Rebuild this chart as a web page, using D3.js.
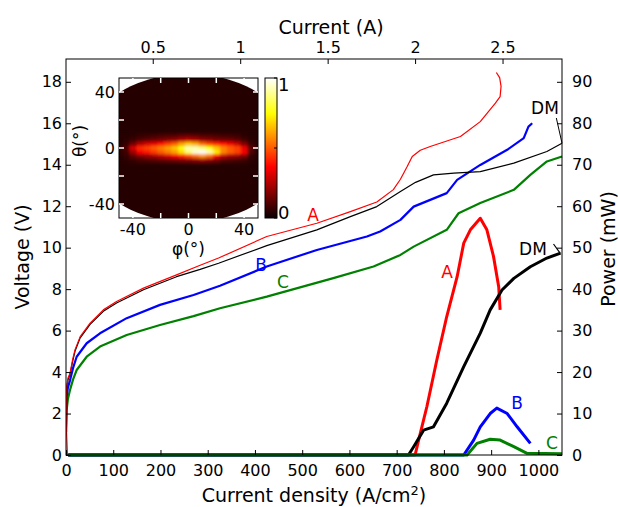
<!DOCTYPE html>
<html lang="en">
<head>
<meta charset="utf-8">
<title>LIV curves</title>
<script src="https://d3js.org/d3.v7.min.js"></script>
<style>
  body { margin: 0; background: #fff; font-family: "DejaVu Sans", sans-serif; }
  svg text { font-family: "DejaVu Sans", sans-serif; }
</style>
</head>
<body>
<div id="chart"></div>
<script>
// ---- voltage (V) vs current density (A/cm2) ----
var jVoltA = [3, 0.5, 1.4, 4, 8.5, 14, 19, 30, 51, 79, 107, 164, 234, 284, 323, 425, 531, 602, 658, 693, 708, 722, 733, 750, 771, 835, 877, 909, 919, 921, 918, 911]
var voltA  = [0, 1.5, 3.3, 3.7, 3.94, 4.6, 5.07, 5.71, 6.36, 7.0, 7.4, 8.05, 8.69, 9.15, 9.5, 10.54, 11.18, 11.74, 12.2, 12.8, 13.3, 13.9, 14.4, 14.7, 14.88, 15.36, 16.08, 16.97, 17.29, 17.78, 18.2, 18.45]

var jVoltDM = [0.5, 1.4, 4, 8.5, 14, 19, 30, 51, 79, 107, 164, 234, 284, 323, 425, 531, 602, 658, 708, 740, 778, 821, 877, 948, 1018, 1050]
var voltDM  = [1.5, 3.2, 3.6, 3.9, 4.5, 5.0, 5.65, 6.3, 6.93, 7.33, 7.97, 8.6, 8.95, 9.25, 10.1, 10.86, 11.5, 11.98, 12.71, 13.15, 13.51, 13.6, 13.67, 14.08, 14.64, 15.04]

var jVoltB = [0, 1.4, 4, 8.5, 15, 22.6, 43.8, 72, 128.5, 199, 270, 326, 425, 531, 637, 665, 708, 736, 806, 828, 877, 934, 969, 979, 987]
var voltB  = [1.1, 2.8, 3.25, 3.6, 4.2, 4.74, 5.39, 5.87, 6.6, 7.24, 7.72, 8.16, 9.09, 9.89, 10.54, 10.78, 11.34, 11.98, 12.63, 13.27, 13.99, 14.72, 15.28, 15.84, 16.0]

var jVoltC = [0, 1.4, 4, 8.5, 15, 22.6, 43.8, 72, 128.5, 199, 270, 326, 425, 566, 651, 708, 736, 806, 831, 877, 948, 983, 1018, 1050]
var voltC  = [1.1, 2.17, 2.7, 3.14, 3.65, 4.1, 4.74, 5.23, 5.79, 6.27, 6.7, 7.08, 7.64, 8.53, 9.09, 9.65, 10.05, 10.86, 11.66, 12.15, 12.79, 13.51, 14.16, 14.4]

// ---- optical power (mW) vs current density ----
var jPowA = [5, 700, 739, 750, 764, 785, 806, 828, 842, 856, 877, 891, 905, 916, 919]
var powA  = [0, 0, 0, 5.2, 11.7, 22.9, 33.4, 43, 51.1, 54.3, 57.1, 54.3, 47.9, 40.6, 35]

var jPowDM = [5, 715, 725, 736, 757, 778, 806, 842, 877, 898, 923, 948, 983, 1018, 1047]
var powDM  = [0, 0, 0, 2, 6, 6.8, 12.5, 21.3, 29.4, 35, 39.8, 42.6, 45.4, 47.5, 48.7]

var jPowB = [5, 842, 863, 877, 898, 912, 934, 955, 983]
var powB  = [0, 0, 3.6, 6.8, 10, 11.3, 10, 6.8, 2.8]

var jPowC = [5, 849, 870, 898, 919, 948, 976, 1050]
var powC  = [0, 0, 2.8, 3.8, 3.6, 2, 0.4, 0.3]

// ---- axis ticks ----
var jTicks = [0, 100, 200, 300, 400, 500, 600, 700, 800, 900, 1000]
var currentTicks = [0.5, 1, 1.5, 2, 2.5]
var voltTicks = [0, 2, 4, 6, 8, 10, 12, 14, 16, 18]
var powTicks = [0, 10, 20, 30, 40, 50, 60, 70, 80, 90]

// ---- far-field inset (normalised intensity) ----
var phiCols = [-50, -45, -40, -35, -30, -25, -20, -15, -10, -5, 0, 5, 10, 15, 20, 25, 30, 35, 40, 45, 50]
var thetaRows = [9, 6, 3, 0, -3, -6, -9]
var farField = [
  [.04,.04,.05,.06,.07,.08,.09,.10,.10,.12,.13,.12,.10,.10,.09,.08,.08,.07,.05,.04,.04],
  [.04,.05,.07,.10,.12,.14,.16,.18,.20,.24,.26,.24,.20,.18,.16,.15,.14,.12,.08,.05,.04],
  [.04,.06,.15,.25,.30,.33,.38,.45,.50,.60,.66,.62,.52,.46,.42,.38,.34,.28,.18,.07,.04],
  [.05,.10,.30,.42,.46,.50,.55,.60,.66,.76,.92,.92,.86,.76,.66,.56,.50,.46,.34,.12,.05],
  [.05,.08,.22,.36,.40,.45,.50,.55,.60,.70,.86,.96,1.0,.92,.72,.56,.50,.46,.36,.10,.05],
  [.04,.06,.12,.16,.20,.22,.26,.30,.35,.40,.46,.52,.58,.52,.36,.26,.22,.20,.16,.06,.04],
  [.04,.05,.06,.08,.09,.10,.11,.12,.13,.15,.16,.18,.20,.18,.14,.10,.09,.08,.07,.05,.04]
]
var farFieldBg = 0.04
var angleTicks = [-40, -20, 0, 20, 40]
var angleLabels = [-40, 0, 40]

var W = 618, H = 507
var pL = 66, pR = 562, pT = 59, pB = 455

var svg = d3.select("#chart").append("svg")
  .attr("width", W).attr("height", H)

var x = d3.scaleLinear().domain([0, 1050]).range([pL, pR])
var xTop = d3.scaleLinear().domain([0, 2.84]).range([pL - 0.7, pR])
var yV = d3.scaleLinear().domain([0, 19.1]).range([pB, pT])
var yP = d3.scaleLinear().domain([0, 95.5]).range([pB, pT])

function zipPts(js, vs) { return js.map(function(j, i) { return [j, vs[i]] }) }

var lineV = d3.line().x(function(d) { return x(d[0]) }).y(function(d) { return yV(d[1]) })
var lineP = d3.line().x(function(d) { return x(d[0]) }).y(function(d) { return yP(d[1]) })

var defs = svg.append("defs")
defs.append("clipPath").attr("id", "plotClip")
  .append("rect").attr("x", pL).attr("y", pT - 2).attr("width", pR - pL + 1).attr("height", pB - pT + 4)

var plot = svg.append("g").attr("clip-path", "url(#plotClip)")

// power curves (thick) - green ends up on top along the zero line
var powSeries = [
  {js: jPowA, vs: powA, color: "#ff0000"},
  {js: jPowDM, vs: powDM, color: "#000000"},
  {js: jPowB, vs: powB, color: "#0000ff"},
  {js: jPowC, vs: powC, color: "#008000"}
]
powSeries.forEach(function(s) {
  plot.append("path").attr("d", lineP(zipPts(s.js, s.vs)))
    .attr("fill", "none").attr("stroke", s.color).attr("stroke-width", 3)
    .attr("stroke-linejoin", "round")
})

// voltage curves
var voltSeries = [
  {js: jVoltC, vs: voltC, color: "#008000", w: 2.2},
  {js: jVoltB, vs: voltB, color: "#0000ff", w: 2.2},
  {js: jVoltDM, vs: voltDM, color: "#000000", w: 1.2},
  {js: jVoltA, vs: voltA, color: "#ff0000", w: 1.2}
]
voltSeries.forEach(function(s) {
  plot.append("path").attr("d", lineV(zipPts(s.js, s.vs)))
    .attr("fill", "none").attr("stroke", s.color).attr("stroke-width", s.w)
    .attr("stroke-linejoin", "round")
})

// frame
svg.append("rect").attr("x", pL).attr("y", pT).attr("width", pR - pL).attr("height", pB - pT)
  .attr("fill", "none").attr("stroke", "#000").attr("stroke-width", 1)

// axes with inward ticks
var tickFont = 16
svg.append("g").attr("transform", "translate(0," + pB + ")")
  .call(d3.axisTop(x).tickValues(jTicks).tickSize(5).tickFormat(d3.format("d")))
  .call(function(g) {
    g.select(".domain").remove()
    g.selectAll("text").attr("y", 21).attr("dy", "0").style("font-size", tickFont + "px")
  })

svg.append("g").attr("transform", "translate(0," + pT + ")")
  .call(d3.axisBottom(xTop).tickValues(currentTicks).tickSize(5).tickFormat(function(d) { return d3.format("")(d) }))
  .call(function(g) {
    g.select(".domain").remove()
    g.selectAll("text").attr("y", -6).attr("dy", "0").style("font-size", tickFont + "px")
  })

svg.append("g").attr("transform", "translate(" + pL + ",0)")
  .call(d3.axisRight(yV).tickValues(voltTicks).tickSize(5))
  .call(function(g) {
    g.select(".domain").remove()
    g.selectAll("text").attr("x", -4).attr("text-anchor", "end").style("font-size", tickFont + "px")
  })

svg.append("g").attr("transform", "translate(" + pR + ",0)")
  .call(d3.axisLeft(yP).tickValues(powTicks).tickSize(5))
  .call(function(g) {
    g.select(".domain").remove()
    g.selectAll("text").attr("x", 10).attr("text-anchor", "start").style("font-size", tickFont + "px")
  })

// axis titles
var titleFont = 19
svg.append("text").attr("x", (pL + pR) / 2).attr("y", 502).attr("text-anchor", "middle")
  .style("font-size", titleFont + "px")
  .html('Current density (A/cm<tspan dy="-7" font-size="13">2</tspan><tspan dy="7">)</tspan>')
svg.append("text").attr("x", (pL + pR) / 2 + 17).attr("y", 34).attr("text-anchor", "middle")
  .style("font-size", titleFont + "px").text("Current (A)")
svg.append("text").attr("transform", "translate(29,257) rotate(-90)").attr("text-anchor", "middle")
  .style("font-size", titleFont + "px").text("Voltage (V)")
svg.append("text").attr("transform", "translate(615,249) rotate(-90)").attr("text-anchor", "middle")
  .style("font-size", titleFont + "px").text("Power (mW)")

// curve labels
var labelFont = 17
function label(txt, px, py, color) {
  svg.append("text").attr("x", px).attr("y", py).attr("text-anchor", "middle")
    .attr("fill", color).style("font-size", labelFont + "px").text(txt)
}
label("A", 313, 221, "#ff0000")
label("B", 261, 271, "#0000ff")
label("C", 283, 288, "#008000")
label("A", 447, 278, "#ff0000")
label("B", 517, 409, "#0000ff")
label("C", 552, 449, "#008000")
label("DM", 545, 114, "#000")
label("DM", 533, 255, "#000")
svg.append("line").attr("x1", x(1038)).attr("y1", 118).attr("x2", x(1050)).attr("y2", yV(15.04))
  .attr("stroke", "#000").attr("stroke-width", 1)
svg.append("line").attr("x1", x(1032)).attr("y1", 244).attr("x2", x(1046)).attr("y2", yP(48.7))
  .attr("stroke", "#000").attr("stroke-width", 1.2)

// ---- inset far field ----
var ix0 = 119, ix1 = 258, iy0 = 78, iy1 = 218
var phiX = d3.scaleLinear().domain([-50, 50]).range([ix0, ix1])
var thetaY = d3.scaleLinear().domain([50, -50]).range([iy0, iy1])
var hot = d3.scaleLinear().domain([0, 0.365, 0.746, 1])
  .range(["#0a0000", "#ff0000", "#ffff00", "#ffffff"]).clamp(true)

// detector aperture (elliptical in phi/theta)
defs.append("clipPath").attr("id", "ffClip")
  .append("ellipse").attr("cx", phiX(0)).attr("cy", thetaY(0))
  .attr("rx", phiX(75) - phiX(0)).attr("ry", thetaY(0) - thetaY(53))
defs.append("clipPath").attr("id", "ffRect")
  .append("rect").attr("x", ix0).attr("y", iy0).attr("width", ix1 - ix0).attr("height", iy1 - iy0)
defs.append("filter").attr("id", "blur").attr("x", "-20%").attr("y", "-50%").attr("width", "140%").attr("height", "200%")
  .append("feGaussianBlur").attr("stdDeviation", "1.8")

svg.append("rect").attr("x", ix0).attr("y", iy0).attr("width", ix1 - ix0).attr("height", iy1 - iy0)
  .attr("fill", "#fff")
var inset = svg.append("g").attr("clip-path", "url(#ffRect)")
var ffg = inset.append("g").attr("clip-path", "url(#ffClip)")
ffg.append("rect").attr("x", ix0).attr("y", iy0).attr("width", ix1 - ix0).attr("height", iy1 - iy0)
  .attr("fill", hot(farFieldBg))
var cellW = phiX(5) - phiX(0), cellH = thetaY(0) - thetaY(3)
var cells = ffg.append("g").attr("filter", "url(#blur)")
farField.forEach(function(row, r) {
  row.forEach(function(v, c) {
    cells.append("rect")
      .attr("x", phiX(phiCols[c]) - cellW / 2).attr("y", thetaY(thetaRows[r]) - cellH / 2)
      .attr("width", cellW + 0.5).attr("height", cellH + 0.5)
      .attr("fill", hot(v))
  })
})
svg.append("rect").attr("x", ix0).attr("y", iy0).attr("width", ix1 - ix0).attr("height", iy1 - iy0)
  .attr("fill", "none").attr("stroke", "#000").attr("stroke-width", 1)

// inset ticks (white, inward)
var itk = svg.append("g").attr("stroke", "#fff").attr("stroke-width", 1.5)
angleTicks.forEach(function(a) {
  itk.append("line").attr("x1", phiX(a)).attr("x2", phiX(a)).attr("y1", iy1).attr("y2", iy1 - 5)
  itk.append("line").attr("x1", phiX(a)).attr("x2", phiX(a)).attr("y1", iy0).attr("y2", iy0 + 5)
  itk.append("line").attr("y1", thetaY(a)).attr("y2", thetaY(a)).attr("x1", ix0).attr("x2", ix0 + 5)
  itk.append("line").attr("y1", thetaY(a)).attr("y2", thetaY(a)).attr("x1", ix1).attr("x2", ix1 - 5)
})
angleLabels.forEach(function(a) {
  svg.append("text").attr("x", phiX(a)).attr("y", iy1 + 17).attr("text-anchor", "middle")
    .style("font-size", tickFont + "px").text(a)
  svg.append("text").attr("x", ix0 - 4).attr("y", thetaY(a) + 6).attr("text-anchor", "end")
    .style("font-size", tickFont + "px").text(a)
})
svg.append("text").attr("x", phiX(0)).attr("y", iy1 + 37).attr("text-anchor", "middle")
  .style("font-size", "17px").text("φ(°)")
svg.append("text").attr("transform", "translate(86," + thetaY(5) + ") rotate(-90)").attr("text-anchor", "middle")
  .style("font-size", "17px").text("θ(°)")

// colorbar
var cb0 = 265, cb1 = 277
var cbY = d3.scaleLinear().domain([0, 1]).range([iy1, iy0])
var grad = defs.append("linearGradient").attr("id", "hotGrad")
  .attr("x1", 0).attr("y1", 1).attr("x2", 0).attr("y2", 0)
hot.domain().forEach(function(s) {
  grad.append("stop").attr("offset", s).attr("stop-color", hot(s))
})
svg.append("rect").attr("x", cb0).attr("y", iy0).attr("width", cb1 - cb0).attr("height", iy1 - iy0)
  .attr("fill", "url(#hotGrad)").attr("stroke", "#000").attr("stroke-width", 1)
;[0, 0.5, 1].forEach(function(t) {
  svg.append("line").attr("x1", cb1 - 3).attr("x2", cb1).attr("y1", cbY(t)).attr("y2", cbY(t))
    .attr("stroke", "#000")
})
svg.append("text").attr("x", cb1 + 1).attr("y", iy0 + 13).style("font-size", "18px").text("1")
svg.append("text").attr("x", cb1 + 1).attr("y", iy1 + 1).style("font-size", "18px").text("0")
</script>
</body>
</html>
